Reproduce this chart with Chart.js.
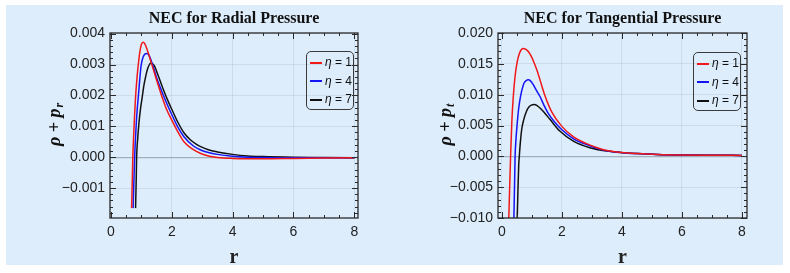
<!DOCTYPE html>
<html><head><meta charset="utf-8">
<script src="https://cdn.jsdelivr.net/npm/chart.js@4.4.1/dist/chart.umd.min.js"></script>
<style>
html,body{margin:0;padding:0;background:#fff;}
body{width:790px;height:273px;position:relative;overflow:hidden;}
#bg{position:absolute;left:6px;top:5px;width:777px;height:260px;background:#ddedfc;}
.panel{position:absolute;top:0;width:395px;height:273px;}
.legend{position:absolute;border:1px solid #3a3a3a;border-radius:5px;box-sizing:border-box;font:12px "Liberation Sans",Arial,sans-serif;color:#111;}
.legend .row{position:absolute;left:3px;height:14px;line-height:14px;white-space:nowrap;}
.legend .sw{display:inline-block;width:12px;height:2px;vertical-align:middle;margin-right:3px;}
</style></head>
<body>
<div id="bg"></div>
<div class="panel" style="left:0"><canvas id="c1" width="395" height="273"></canvas></div>
<div class="panel" style="left:395px"><canvas id="c2" width="395" height="273"></canvas></div>
<div class="legend" id="lg1" style="left:306px;top:51px;width:48px;height:59px"></div>
<div class="legend" id="lg2" style="left:693px;top:52px;width:48px;height:59px"></div>
<script>
// ---------- data ----------
const seriesLabels = ["η = 1", "η = 4", "η = 7"];
const etaValues = ["1", "4", "7"];
const seriesColors = ["#f01818", "#1414f5", "#111111"];

// Radial pressure: rho + p_r  (values in units of 1e-3)
const radEta1X = [0.68,0.70,0.72,0.75,0.78,0.81,0.86,0.90,0.95,1.00,1.06,1.12,1.20,1.35,1.50,1.68,1.85,2.00,2.20,2.40,2.70,2.95,3.20,3.50,4.00,4.50,5.00,6.00,7.00,8.00];
const radEta1Y = [-1.65,-0.85,0.0,0.75,1.40,1.95,2.60,3.00,3.40,3.65,3.72,3.66,3.45,2.98,2.50,1.95,1.50,1.20,0.82,0.50,0.25,0.12,0.04,-0.01,-0.04,-0.05,-0.05,-0.04,-0.03,-0.02];
const radEta4X = [0.73,0.755,0.78,0.81,0.84,0.87,0.90,0.95,0.99,1.05,1.11,1.17,1.25,1.35,1.50,1.65,1.80,2.00,2.20,2.40,2.70,2.95,3.20,3.50,4.00,4.50,5.00,6.00,7.00,8.00];
const radEta4Y = [-1.65,-0.80,0.0,0.65,1.20,1.62,1.95,2.55,2.95,3.22,3.33,3.36,3.30,3.05,2.58,2.18,1.82,1.38,0.97,0.66,0.37,0.23,0.15,0.09,0.03,0.00,-0.01,-0.02,-0.02,-0.02];
const radEta7X = [0.81,0.83,0.845,0.88,0.92,0.97,1.03,1.08,1.14,1.22,1.32,1.42,1.55,1.70,1.85,2.00,2.20,2.40,2.60,2.80,2.95,3.20,3.50,4.00,4.50,5.00,6.00,7.00,8.00];
const radEta7Y = [-1.65,-0.80,0.0,0.60,1.09,1.55,1.95,2.30,2.60,2.90,3.05,2.97,2.65,2.25,1.88,1.55,1.13,0.79,0.57,0.42,0.34,0.24,0.17,0.09,0.04,0.02,0.00,-0.01,-0.02];

// Tangential pressure: rho + p_t  (values in units of 1e-3)
const tanEta1X = [0.23,0.26,0.29,0.33,0.38,0.44,0.51,0.60,0.71,0.80,0.88,0.98,1.08,1.18,1.27,1.43,1.66,1.99,2.40,2.80,3.20,3.50,4.00,4.50,5.20,6.00,7.00,8.00];
const tanEta1Y = [-10,-4.8,0,5.5,9.7,13.0,15.3,16.9,17.5,17.35,17.0,16.2,15.1,13.8,12.4,9.9,7.2,4.9,3.1,2.1,1.35,0.95,0.62,0.45,0.30,0.22,0.18,0.15];
const tanEta4X = [0.40,0.42,0.44,0.47,0.51,0.56,0.62,0.68,0.74,0.81,0.88,0.96,1.05,1.15,1.27,1.40,1.54,1.75,1.99,2.40,2.80,3.20,3.50,4.00,4.50,5.20,6.00,7.00,8.00];
const tanEta4Y = [-10,-5,0,2.8,5.3,7.8,9.7,11.0,11.9,12.3,12.4,12.2,11.6,10.7,9.7,8.3,7.0,5.6,4.35,2.8,1.95,1.25,0.90,0.60,0.44,0.30,0.22,0.18,0.15];
const tanEta7X = [0.51,0.535,0.56,0.58,0.62,0.66,0.72,0.82,0.90,0.98,1.08,1.18,1.27,1.43,1.60,1.93,2.38,2.93,3.49,4.04,4.50,5.16,6.27,7.00,8.00];
const tanEta7Y = [-10,-5.5,-1.5,0,2.5,4.35,5.8,7.3,8.0,8.3,8.4,8.2,7.85,7.0,6.0,4.1,2.47,1.4,0.86,0.59,0.45,0.30,0.20,0.17,0.15];

// ticks
const xTicks = [0, 2, 4, 6, 8];
const xTickLabels = ["0", "2", "4", "6", "8"];
const radYTicks = [-0.001, 0, 0.001, 0.002, 0.003, 0.004];
const radYTickLabels = ["\u22120.001", "0.000", "0.001", "0.002", "0.003", "0.004"];
const tanYTicks = [-0.010, -0.005, 0, 0.005, 0.010, 0.015, 0.020];
const tanYTickLabels = ["\u22120.010", "\u22120.005", "0.000", "0.005", "0.010", "0.015", "0.020"];

// ---------- helpers ----------
function pts(xs, ys, scale) { return xs.map((x, i) => ({ x: x, y: ys[i] * scale })); }

const framePlugin = {
  id: 'frame',
  afterDatasetsDraw(chart, args, opts) {
    const { ctx, chartArea: a, scales } = chart;
    const xs = scales.x, ys = scales.y;
    ctx.save();
    ctx.strokeStyle = '#2a2a2a';
    ctx.lineWidth = 1;
    const tick = (x1, y1, x2, y2) => { ctx.beginPath(); ctx.moveTo(x1, y1); ctx.lineTo(x2, y2); ctx.stroke(); };
    for (let v = 0; v <= 8.0001; v += 0.5) {
      const p = Math.round(xs.getPixelForValue(v)) + 0.5;
      const major = Math.abs(v / 2 - Math.round(v / 2)) < 1e-6;
      const L = major ? 6 : 3;
      tick(p, a.bottom, p, a.bottom - L);
      tick(p, a.top, p, a.top + L);
    }
    const step = opts.yMinor;
    const start = Math.ceil(ys.min / step) * step;
    for (let v = start; v <= ys.max + 1e-12; v += step) {
      const p = Math.round(ys.getPixelForValue(v)) + 0.5;
      const r = v / opts.yMajor;
      const major = Math.abs(r - Math.round(r)) < 1e-6;
      const L = major ? 6 : 3;
      tick(a.left, p, a.left + L, p);
      tick(a.right, p, a.right - L, p);
    }
    ctx.lineWidth = 1.3;
    ctx.strokeRect(a.left, a.top, a.right - a.left, a.bottom - a.top);
    // title
    ctx.fillStyle = '#111';
    ctx.font = 'bold 16px "Liberation Serif", serif';
    ctx.textAlign = 'center';
    ctx.textBaseline = 'middle';
    ctx.fillText(opts.title, (a.left + a.right) / 2, 19);
    // y label with subscript
    ctx.translate(opts.yLabelX, (a.top + a.bottom) / 2 - 1);
    ctx.rotate(-Math.PI / 2);
    ctx.font = 'bold italic 18px "Liberation Serif", serif';
    const main = 'ρ + p';
    const wMain = ctx.measureText(main).width;
    ctx.font = 'bold italic 12px "Liberation Serif", serif';
    const wSub = ctx.measureText(opts.sub).width;
    const total = wMain + wSub + 1;
    ctx.textAlign = 'left';
    ctx.font = 'bold italic 18px "Liberation Serif", serif';
    ctx.fillText(main, -total / 2, 0);
    ctx.font = 'bold italic 12px "Liberation Serif", serif';
    ctx.fillText(opts.sub, -total / 2 + wMain + 1, 5);
    ctx.restore();
  }
};

function makeChart(id, sets, cfg) {
  const datasets = sets.map((d, i) => ({
    label: seriesLabels[i],
    data: d,
    borderColor: seriesColors[i],
    backgroundColor: seriesColors[i],
    borderWidth: 1.5,
    pointRadius: 0,
    fill: false,
    cubicInterpolationMode: 'monotone'
  }));
  return new Chart(document.getElementById(id), {
    type: 'line',
    data: { datasets },
    plugins: [framePlugin],
    options: {
      responsive: false,
      animation: false,
      events: [],
      layout: { padding: { top: 33, right: cfg.padRight, bottom: 0, left: 0 } },
      plugins: {
        legend: { display: false },
        tooltip: { enabled: false },
        title: { display: false },
        frame: cfg.frame
      },
      scales: {
        x: {
          type: 'linear',
          min: cfg.xMin, max: cfg.xMax,
          afterFit: (s) => { s.height = 55; },
          afterBuildTicks: (s) => { s.ticks = xTicks.map(v => ({ value: v })); },
          border: { display: false },
          grid: { color: 'rgba(0,0,0,0.07)', lineWidth: 1, drawTicks: false },
          ticks: {
            padding: 6, color: '#222', maxRotation: 0,
            font: { family: '"Liberation Sans", Arial, sans-serif', size: 14 },
            callback: (v) => xTickLabels[xTicks.indexOf(v)]
          },
          title: { display: true, text: 'r', color: '#222', padding: { top: 0, bottom: 3 },
                   font: { family: '"Liberation Serif", serif', size: 20, weight: 'bold' } }
        },
        y: {
          type: 'linear',
          min: cfg.yMin, max: cfg.yMax,
          afterFit: (s) => { s.width = cfg.yWidth; },
          afterBuildTicks: (s) => { s.ticks = cfg.yTicks.map(v => ({ value: v })); },
          border: { display: false },
          grid: {
            drawTicks: false, lineWidth: (c) => (c.tick && c.tick.value === 0 ? 1.2 : 1),
            color: (c) => (c.tick && c.tick.value === 0 ? 'rgba(90,100,110,0.45)' : 'rgba(0,0,0,0.07)')
          },
          ticks: {
            padding: 5, color: '#222',
            font: { family: '"Liberation Sans", Arial, sans-serif', size: 14 },
            callback: (v) => cfg.yLabels[cfg.yTicks.indexOf(v)]
          }
        }
      }
    }
  });
}

const ch1 = makeChart('c1', [
  pts(radEta1X, radEta1Y, 1e-3), pts(radEta4X, radEta4Y, 1e-3), pts(radEta7X, radEta7Y, 1e-3)
], {
  xMin: -0.03, xMax: 8.12, yMin: -0.00197, yMax: 0.00402,
  yTicks: radYTicks, yLabels: radYTickLabels, yWidth: 110, padRight: 37,
  frame: { title: 'NEC for Radial Pressure', sub: 'r', yLabelX: 55, yMinor: 0.0002, yMajor: 0.001 }
});

const ch2 = makeChart('c2', [
  pts(tanEta1X, tanEta1Y, 1e-3), pts(tanEta4X, tanEta4Y, 1e-3), pts(tanEta7X, tanEta7Y, 1e-3)
], {
  xMin: -0.13, xMax: 8.17, yMin: -0.010, yMax: 0.020,
  yTicks: tanYTicks, yLabels: tanYTickLabels, yWidth: 103, padRight: 43,
  frame: { title: 'NEC for Tangential Pressure', sub: 't', yLabelX: 51, yMinor: 0.001, yMajor: 0.005 }
});

// legends built from the chart datasets
function buildLegend(chart, el) {
  chart.data.datasets.forEach((d, i) => {
    const row = document.createElement('div');
    row.className = 'row';
    row.style.top = (3 + i * 18.5) + 'px';
    const sw = document.createElement('span');
    sw.className = 'sw';
    sw.style.backgroundColor = d.borderColor;
    row.appendChild(sw);
    const it = document.createElement('i');
    it.textContent = 'η';
    row.appendChild(it);
    row.appendChild(document.createTextNode(' = ' + etaValues[i]));
    el.appendChild(row);
  });
}
buildLegend(ch1, document.getElementById('lg1'));
buildLegend(ch2, document.getElementById('lg2'));
</script>
</body></html>
